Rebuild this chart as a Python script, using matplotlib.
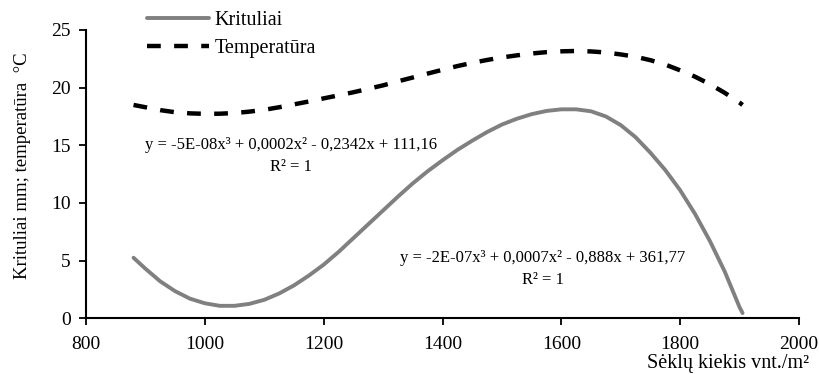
import matplotlib
matplotlib.use("Agg")
import matplotlib.pyplot as plt

x_vals = [880, 900, 925, 950, 975, 1000, 1025, 1050, 1075, 1100, 1125, 1150, 1175,
          1200, 1225, 1250, 1275, 1300, 1325, 1350, 1375, 1400, 1425, 1450, 1475,
          1500, 1525, 1550, 1575, 1600, 1625, 1650, 1675, 1700, 1725, 1750, 1775,
          1800, 1825, 1850, 1875, 1900, 1905]
krituliai = [5.25, 4.3, 3.2, 2.35, 1.7, 1.3, 1.08, 1.08, 1.25, 1.6, 2.15, 2.85, 3.7,
             4.65, 5.75, 6.95, 8.15, 9.35, 10.55, 11.7, 12.75, 13.7, 14.6, 15.4, 16.15,
             16.8, 17.3, 17.7, 17.98, 18.12, 18.12, 17.95, 17.5, 16.75, 15.7, 14.35, 12.85,
             11.1, 9.05, 6.7, 4.05, 0.95, 0.45]
temperatura = [18.5, 18.3, 18.05, 17.87, 17.77, 17.73, 17.74, 17.8, 17.92, 18.08, 18.3, 18.55, 18.8,
               19.07, 19.33, 19.6, 19.9, 20.2, 20.55, 20.88, 21.22, 21.55, 21.87, 22.15, 22.4,
               22.62, 22.8, 22.96, 23.08, 23.15, 23.18, 23.14, 23.05, 22.88, 22.68, 22.38, 22.0,
               21.5, 20.95, 20.3, 19.55, 18.7, 18.5]

series_names = ["Krituliai", "Temperatūra"]
eq_krit = "y = -2E-07x³ + 0,0007x² - 0,888x + 361,77"
eq_temp = "y = -5E-08x³ + 0,0002x² - 0,2342x + 111,16"
r2_text = "R² = 1"
x_ticks = [800, 1000, 1200, 1400, 1600, 1800, 2000]
y_ticks = [0, 5, 10, 15, 20, 25]
x_label = "Sėklų kiekis vnt./m²"
y_label = "Krituliai mm; temperatūra  °C"

plt.rcParams['font.family'] = ['Liberation Serif', 'DejaVu Serif']

fig = plt.figure(figsize=(8.19, 3.74), dpi=100)
ax = fig.add_axes([0.105, 0.149, 0.8706, 0.7708])

l1, = ax.plot(x_vals, krituliai, color='#808080', lw=2.8, solid_capstyle='round',
              solid_joinstyle='round', label=series_names[0])
l2, = ax.plot(x_vals, temperatura, color='black', lw=3.2, dashes=(3.1, 3.0),
              label=series_names[1])

ax.set_xlim(800, 2000)
ax.set_ylim(0, 25)
ax.set_xticks(x_ticks)
ax.set_yticks(y_ticks)
ax.tick_params(axis='both', direction='out', length=5, width=1.3, labelsize=14)
ax.tick_params(axis='x', pad=8)
ax.tick_params(axis='y', pad=6)
for s in ['top', 'right']:
    ax.spines[s].set_visible(False)
for s in ['left', 'bottom']:
    ax.spines[s].set_linewidth(1.5)

fig.text(0.028, 0.556, y_label, fontsize=13.5, rotation=90, ha='center', va='center')
fig.text(0.988, 0.004, x_label, fontsize=14.5, ha='right', va='bottom')

ax.text(1145, 15.0, eq_temp, fontsize=12, ha='center', va='center')
ax.text(1145, 13.1, r2_text, fontsize=12, ha='center', va='center')
ax.text(1569, 5.23, eq_krit, fontsize=12, ha='center', va='center')
ax.text(1569, 3.32, r2_text, fontsize=12, ha='center', va='center')

leg = fig.legend(handles=[l1, l2], loc='upper left', bbox_to_anchor=(147 / 819, 1 - 11 / 374),
                 frameon=False, fontsize=14.5, handlelength=3.1, handletextpad=0.25,
                 labelspacing=0.45, borderaxespad=0, borderpad=0)

fig.savefig("out.png", dpi=100)
